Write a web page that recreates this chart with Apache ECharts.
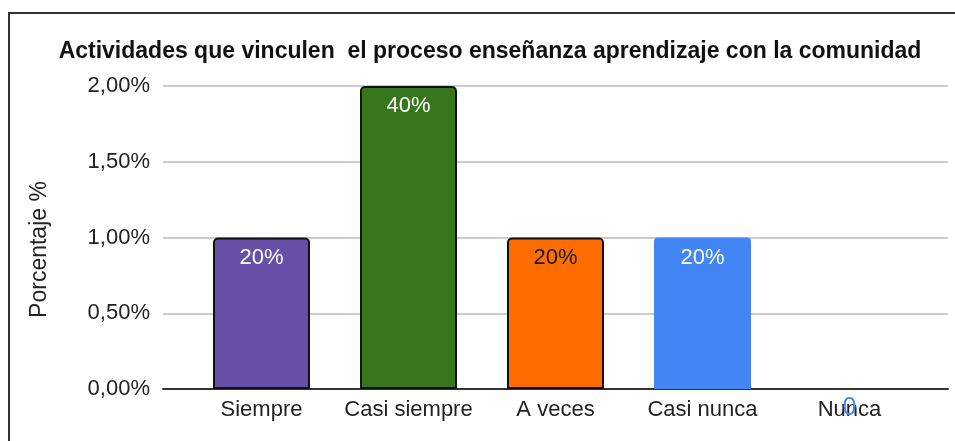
<!DOCTYPE html>
<html>
<head>
<meta charset="utf-8">
<script src="https://cdn.jsdelivr.net/npm/echarts@6/dist/echarts.min.js"></script>
<style>
  html, body { margin: 0; padding: 0; background: #fff; }
  #chart { width: 955px; height: 441px; }
</style>
</head>
<body>
<div id="chart"></div>
<script>
// data
const categories = ['Siempre', 'Casi siempre', 'A veces', 'Casi nunca', 'Nunca'];
const values = [1, 2, 1, 1, 0];
const barLabels = ['20%', '40%', '20%', '20%', '0'];
const barColors = ['#674ea7', '#38761d', '#ff6d01', '#4285f4', '#4285f4'];
const labelColors = ['#ffffff', '#ffffff', '#1a1a1a', '#ffffff', '#4285f4'];
const hasBorder = [true, true, true, false, false];

const font = 'Liberation Sans, Arial, sans-serif';
const chart = echarts.init(document.getElementById('chart'), null, { renderer: 'canvas' });

chart.setOption({
  animation: false,
  textStyle: { fontFamily: font },
  title: {
    text: 'Actividades que vinculen  el proceso enseñanza aprendizaje con la comunidad',
    left: 485,
    textAlign: 'center',
    top: 35,
    textStyle: { fontSize: 23, fontWeight: 'bold', color: '#111', fontFamily: font },
  },
  graphic: [
    {
      type: 'rect',
      shape: { x: 9, y: 13, width: 1000, height: 500 },
      style: { fill: 'none', stroke: '#333', lineWidth: 2 },
      silent: true,
    },
  ],
  grid: [
    { left: 188, right: 32, top: 86, bottom: 52 },
    { left: 163, right: 7, top: 86, bottom: 52 },
  ],
  xAxis: [
    {
      type: 'category',
      gridIndex: 0,
      data: categories,
      axisLine: { show: false },
      axisTick: { show: false },
      axisLabel: { color: '#222', fontSize: 22, margin: 10, interval: 0, hideOverlap: false },
    },
    {
      type: 'value',
      gridIndex: 1,
      min: 0,
      max: 1,
      axisLine: { show: true, onZero: false, lineStyle: { color: '#333', width: 2 } },
      axisTick: { show: false },
      axisLabel: { show: false },
      splitLine: { show: false },
    },
  ],
  yAxis: [
    {
      type: 'value',
      gridIndex: 0,
      min: 0,
      max: 2,
      interval: 0.5,
      axisLine: { show: false },
      axisTick: { show: false },
      axisLabel: { show: false },
      splitLine: { show: false },
    },
    {
      type: 'value',
      gridIndex: 1,
      min: 0,
      max: 2,
      interval: 0.5,
      name: 'Porcentaje %',
      nameLocation: 'middle',
      nameGap: 112,
      nameTextStyle: { fontSize: 23, color: '#222', padding: [0, 24, 0, 0] },
      axisLine: { show: false },
      axisTick: { show: false },
      axisLabel: {
        color: '#222',
        fontSize: 22,
        margin: 13,
        formatter: (v) => v.toFixed(2).replace('.', ',') + '%',
      },
      splitLine: { lineStyle: { color: '#cccccc', width: 2 } },
    },
  ],
  series: [
    {
      type: 'bar',
      xAxisIndex: 0,
      yAxisIndex: 0,
      barWidth: 97,
      z: 3,
      data: values.map((v, i) => ({
        value: v,
        itemStyle: {
          color: barColors[i],
          borderColor: hasBorder[i] ? '#111' : barColors[i],
          borderWidth: hasBorder[i] ? 2 : 0,
          borderRadius: [4, 4, 0, 0],
        },
        label: {
          show: true,
          position: v > 0 ? 'insideTop' : 'bottom',
          distance: v > 0 ? 9 : 7,
          formatter: barLabels[i],
          color: labelColors[i],
          fontSize: v > 0 ? 22 : 25,
        },
      })),
    },
  ],
});
</script>
</body>
</html>
